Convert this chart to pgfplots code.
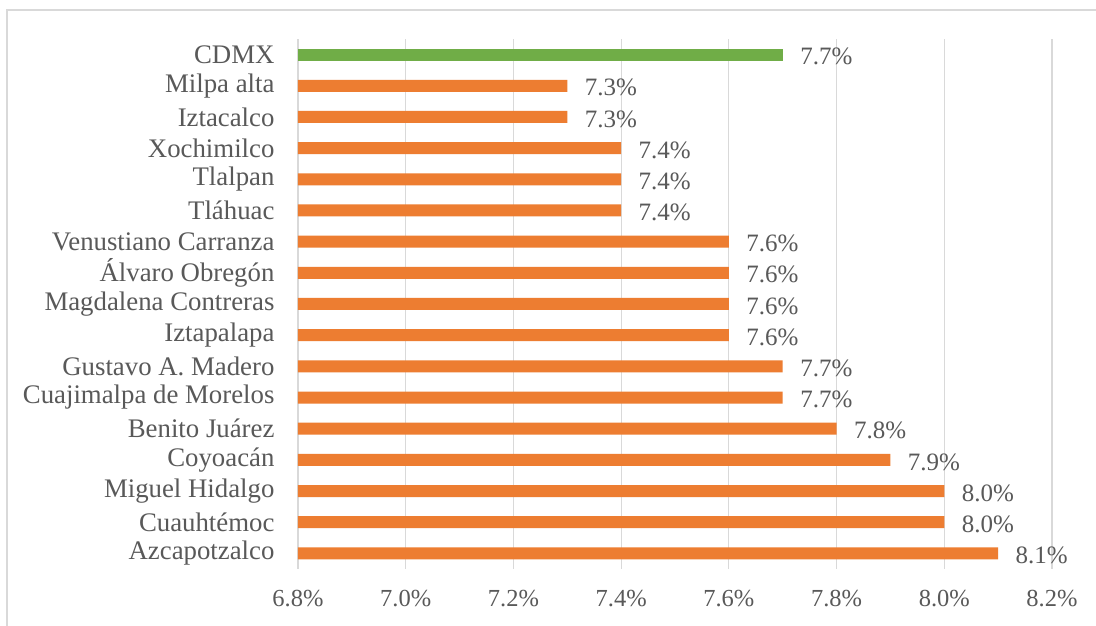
\documentclass[border=0pt]{standalone}
\usepackage{pgfplots}
\pgfplotsset{compat=1.18}
\usepackage{fontspec}
\setmainfont{Liberation Serif}
\definecolor{barorange}{HTML}{ED7D31}
\definecolor{bargreen}{HTML}{70AD47}
\definecolor{txtgray}{HTML}{595959}
\definecolor{gridgray}{HTML}{D9D9D9}
\begin{document}
\begin{tikzpicture}
\useasboundingbox (0pt,0pt) rectangle (1096pt,626pt);
\fill[white] (0pt,0pt) rectangle (1096pt,626pt);
\draw[gridgray,line width=1.5pt] (7pt,-5pt) -- (7pt,616pt) -- (1100pt,616pt);
\begin{axis}[
  at={(298pt,57pt)}, anchor=south west,
  scale only axis, width=754pt, height=530pt,
  xbar, bar width=12pt, bar shift=0pt,
  xmin=6.8, xmax=8.2,
  ymin=-0.5, ymax=16.5,
  xtick={6.8,7.0,7.2,7.4,7.6,7.8,8.0,8.2},
  xticklabel={\pgfmathprintnumber[fixed,fixed zerofill,precision=1]{\tick}\%},
  /pgf/number format/assume math mode=true,
  ytick={0,...,16},
  yticklabels={Azcapotzalco,Cuauhtémoc,Miguel Hidalgo,Coyoacán,Benito Juárez,Cuajimalpa de Morelos,Gustavo A. Madero,Iztapalapa,Magdalena Contreras,Álvaro Obregón,Venustiano Carranza,Tláhuac,Tlalpan,Xochimilco,Iztacalco,Milpa alta,CDMX},
  axis line style={draw=none},
  major tick length=0pt,
  xmajorgrids, grid style={gridgray,line width=1.2pt},
  ymajorgrids=false,
  x tick label style={font=\fontsize{24.5}{26}\selectfont, text=txtgray, yshift=-18pt},
  y tick label style={font=\fontsize{26.8}{28}\selectfont, text=txtgray, xshift=-20pt},
  nodes near coords={\pgfmathprintnumber[fixed,fixed zerofill,precision=1]{\pgfplotspointmeta}\%},
  point meta=x,
  every node near coord/.append style={font=\fontsize{25}{27}\selectfont, text=txtgray, anchor=west, xshift=14pt, yshift=-2pt},
  clip=false,
]
\addplot[fill=barorange, draw=none] coordinates {
(8.1,0) (8.0,1) (8.0,2) (7.9,3) (7.8,4) (7.7,5) (7.7,6) (7.6,7) (7.6,8) (7.6,9) (7.6,10) (7.4,11) (7.4,12) (7.4,13) (7.3,14) (7.3,15)};
\addplot[fill=bargreen, draw=none] coordinates {(7.7,16)};
\end{axis}
\end{tikzpicture}
\end{document}
